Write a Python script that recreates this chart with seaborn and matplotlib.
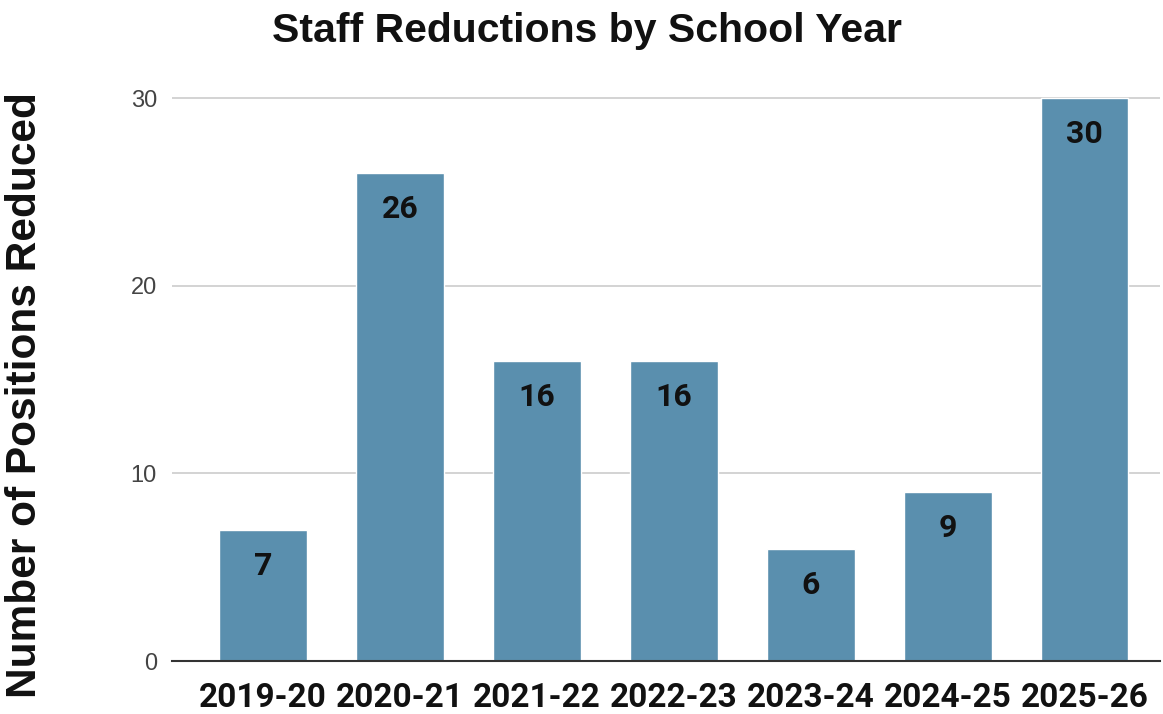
import matplotlib.pyplot as plt
import seaborn as sns
import pandas as pd

# Chart data
years = ["2019-20", "2020-21", "2021-22", "2022-23", "2023-24", "2024-25", "2025-26"]
positions = [7, 26, 16, 16, 6, 9, 30]

df = pd.DataFrame({"year": years, "positions": positions})

sns.set_theme(style="white")
plt.rcParams['font.family'] = ['Liberation Sans', 'DejaVu Sans']

fig = plt.figure(figsize=(11.63, 7.14), dpi=100)
ax = fig.add_axes([0.148, 0.074, 0.849, 0.794])

sns.barplot(data=df, x="year", y="positions", color="#5a8fae", saturation=1,
            width=0.64, ax=ax)

# Value labels inside the top of each bar
for i, v in enumerate(positions):
    ax.annotate(str(v), (i, v), xytext=(0, -26), textcoords="offset points",
                ha="center", va="center", fontsize=23, fontweight="bold",
                family="Roboto", color="#111111")

ax.set_ylim(0, 30.2)
ax.set_xlim(-0.664, 6.547)
ax.set_yticks([0, 10, 20, 30])
ax.yaxis.grid(True, color="#cccccc", linewidth=1.2)
ax.set_axisbelow(True)

for side in ["top", "right", "left"]:
    ax.spines[side].set_visible(False)
ax.spines["bottom"].set_color("#333333")
ax.spines["bottom"].set_linewidth(1.5)

ax.tick_params(axis="y", length=0, pad=11, labelsize=17, labelcolor="#444444")
ax.tick_params(axis="x", length=0, pad=15)
for lbl in ax.get_xticklabels():
    lbl.set_fontfamily("Roboto")
    lbl.set_fontweight("bold")
    lbl.set_fontsize(24)
    lbl.set_color("#111111")

ax.set_xlabel("")
ax.set_ylabel("Number of Positions Reduced", fontsize=30.5, fontweight="bold",
              color="#111111")
ax.yaxis.set_label_coords(-0.129, 0.47)

fig.suptitle("Staff Reductions by School Year", fontsize=29.5, fontweight="bold",
             x=0.505, y=0.956, va="center", color="#111111")

plt.savefig("out.png", dpi=100)
plt.close()
